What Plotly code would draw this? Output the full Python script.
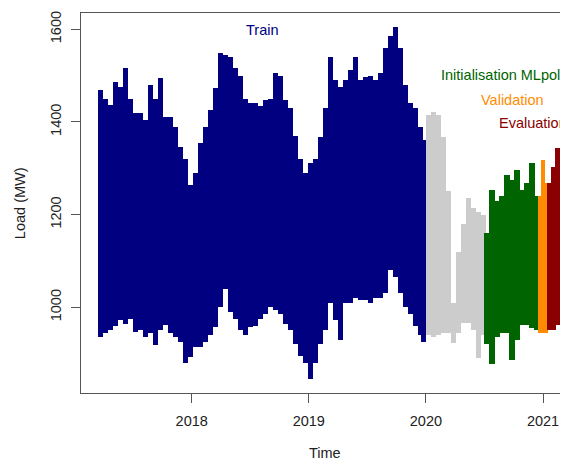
import plotly.graph_objects as go

# ---- data: per-bin envelope (decimal year, min load, max load in MW) ----
train_t = [2017.221, 2017.264, 2017.306, 2017.349, 2017.392, 2017.435, 2017.477, 2017.520, 2017.563, 2017.605,
           2017.648, 2017.691, 2017.733, 2017.776, 2017.819, 2017.862, 2017.904, 2017.947, 2017.990, 2018.032,
           2018.075, 2018.118, 2018.160, 2018.203, 2018.246, 2018.289, 2018.331, 2018.374, 2018.417, 2018.459,
           2018.502, 2018.545, 2018.587, 2018.630, 2018.673, 2018.716, 2018.758, 2018.801, 2018.844, 2018.886,
           2018.929, 2018.972, 2019.014, 2019.057, 2019.100, 2019.143, 2019.185, 2019.228, 2019.271, 2019.313,
           2019.356, 2019.399, 2019.441, 2019.484, 2019.527, 2019.570, 2019.612, 2019.655, 2019.698, 2019.740,
           2019.783, 2019.826, 2019.868, 2019.911, 2019.954, 2019.979]
train_hi = [1469, 1450, 1437, 1486, 1475, 1516, 1450, 1419, 1419, 1405,
            1480, 1450, 1495, 1411, 1411, 1389, 1345, 1320, 1265, 1290,
            1355, 1390, 1425, 1473, 1549, 1545, 1540, 1516, 1500, 1450,
            1441, 1441, 1435, 1447, 1450, 1505, 1500, 1447, 1430, 1370,
            1320, 1290, 1311, 1320, 1367, 1430, 1540, 1490, 1475, 1490,
            1512, 1540, 1490, 1497, 1500, 1490, 1505, 1560, 1585, 1605,
            1560, 1480, 1440, 1430, 1390, 1360]
train_lo = [936, 945, 950, 960, 973, 965, 975, 947, 950, 936,
            945, 919, 950, 962, 945, 936, 925, 880, 893, 914,
            914, 925, 940, 957, 1000, 1040, 990, 975, 950, 940,
            957, 960, 975, 985, 1000, 994, 985, 965, 950, 920,
            895, 880, 845, 880, 920, 950, 1009, 973, 929, 1009,
            1009, 1020, 1016, 1016, 1010, 1020, 1020, 1030, 1080, 1065,
            1030, 1000, 985, 960, 940, 925]

unused_t = [2020.022, 2020.065, 2020.107, 2020.150, 2020.193, 2020.235,
            2020.278, 2020.321, 2020.363, 2020.406, 2020.449, 2020.487]
unused_hi = [1415, 1421, 1415, 1367, 1250, 1010, 1120, 1180, 1236, 1215, 1205, 1200]
unused_lo = [940, 936, 940, 945, 945, 923, 945, 966, 966, 950, 891, 940]

mlpol_t = [2020.522, 2020.564, 2020.607, 2020.650, 2020.692, 2020.735,
           2020.778, 2020.821, 2020.863, 2020.906, 2020.942]
mlpol_hi = [1160, 1253, 1230, 1240, 1285, 1275, 1296, 1253, 1268, 1311, 1240]
mlpol_lo = [920, 878, 936, 945, 945, 886, 930, 962, 962, 955, 950]

valid_t = [2020.974, 2021.000, 2021.026]
valid_hi = [1240, 1318, 1268]
valid_lo = [945, 945, 945]

eval_t = [2021.056, 2021.090, 2021.124]
eval_hi = [1268, 1303, 1344]
eval_lo = [951, 951, 962]

year_ticks = [2018, 2019, 2020, 2021]
load_ticks = [1000, 1200, 1400, 1600]

FONT = "Liberation Sans, Arial, Helvetica, sans-serif"

fig = go.Figure()


def add_range(t, lo, hi, color, width):
    fig.add_trace(go.Bar(
        x=t, y=[h - l for h, l in zip(hi, lo)], base=lo,
        width=width, marker=dict(color=color, line=dict(width=0)),
        showlegend=False, hoverinfo="skip"))


add_range(train_t, train_lo, train_hi, "#000080", 0.045)
add_range(unused_t, unused_lo, unused_hi, "#cccccc", 0.045)
add_range(mlpol_t, mlpol_lo, mlpol_hi, "#006400", 0.045)
add_range(valid_t, valid_lo, valid_hi, "#ff8c00", 0.027)
add_range(eval_t, eval_lo, eval_hi, "#8b0000", 0.036)

labels = [("Train", 2018.606, 1598, "#000080"),
          ("Initialisation MLpol", 2020.633, 1501, "#006400"),
          ("Validation", 2020.741, 1447, "#ff8c00"),
          ("Evaluation", 2020.915, 1398, "#8b0000")]
for txt, x, y, c in labels:
    fig.add_annotation(x=x, y=y, text=txt, showarrow=False,
                       font=dict(family=FONT, size=14.5, color=c),
                       xanchor="center", yanchor="middle")

fig.add_annotation(xref="paper", yref="paper", x=0.5, y=-0.158, text="Time",
                   showarrow=False, font=dict(family=FONT, size=14.5, color="#222"),
                   xanchor="center", yanchor="middle")
fig.add_annotation(xref="paper", yref="paper", x=-0.125, y=0.5, text="Load (MW)",
                   showarrow=False, textangle=-90,
                   font=dict(family=FONT, size=14.5, color="#222"),
                   xanchor="center", yanchor="middle")

# the page body adds an 8px offset, so the figure is 8px smaller on each used side
fig.update_layout(
    width=560, height=454,
    margin=dict(l=73, r=0, t=5, b=69, pad=0),
    paper_bgcolor="white", plot_bgcolor="white",
    barmode="overlay", bargap=0,
    font=dict(family=FONT, size=14.5, color="#222"),
    xaxis=dict(range=[2017.0547, 2021.2135], tickmode="array", tickvals=year_ticks,
               ticktext=[str(v) for v in year_ticks],
               showgrid=False, zeroline=False, showline=True, mirror=True,
               linecolor="#555", linewidth=1, ticks="outside", ticklen=9,
               tickcolor="#555", ticklabelstandoff=6),
    yaxis=dict(range=[815.1, 1635.1], tickmode="array", tickvals=load_ticks,
               ticktext=[str(v) for v in load_ticks], tickangle=-90,
               showgrid=False, zeroline=False, showline=True, mirror=False,
               linecolor="#555", linewidth=1, ticks="outside", ticklen=9,
               tickcolor="#555", ticklabelstandoff=4),
)

fig.write_html("out.html")
